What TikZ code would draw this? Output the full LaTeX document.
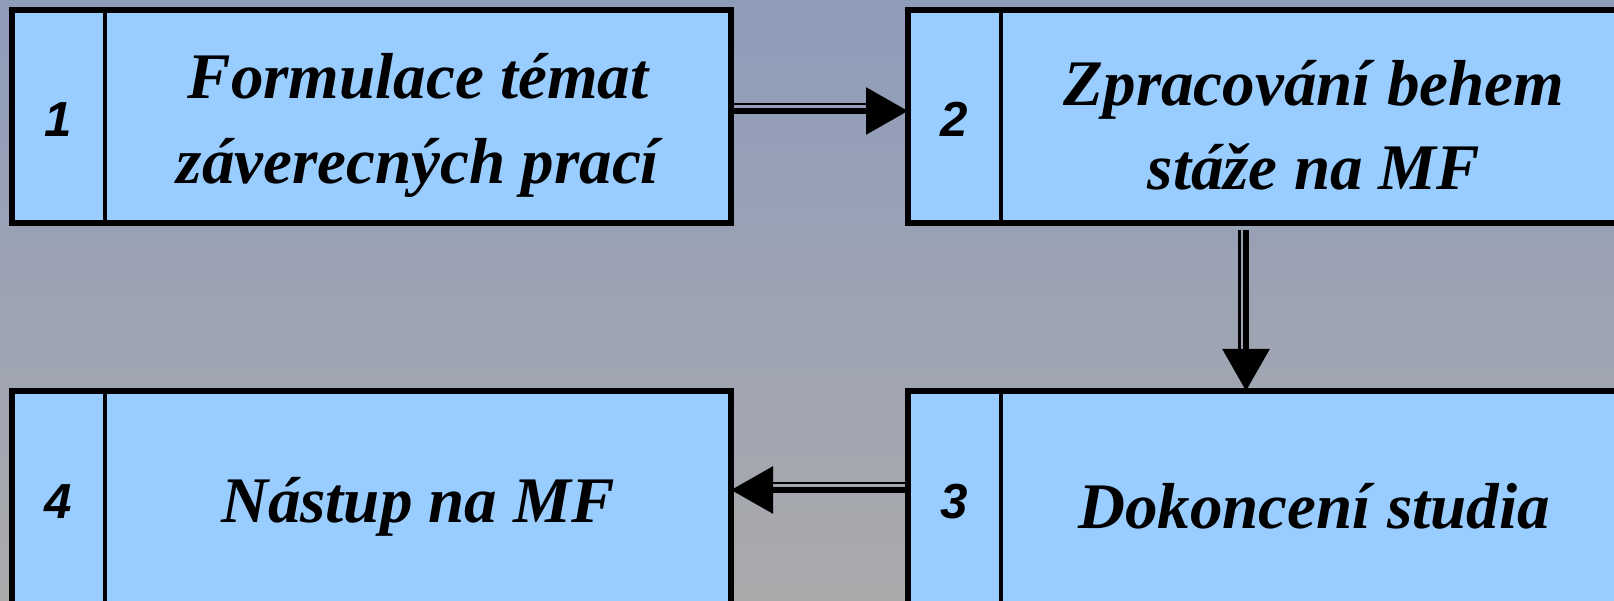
\documentclass[tikz,border=0pt]{standalone}
\usepackage{fontspec}
\setmainfont{Liberation Serif}
\newfontfamily\numfont{Liberation Sans}
\usetikzlibrary{arrows.meta,calc,positioning}
\definecolor{boxblue}{HTML}{99CCFF}
\definecolor{bgtop}{RGB}{142,156,186}
\definecolor{bgbottom}{RGB}{170,170,172}
\tikzset{stage box/.style={draw=black, line width=1.8pt, fill=boxblue, minimum width=7.19cm, minimum height=2.13cm, inner sep=0, outer sep=0},
	stage text/.style={font=\fontsize{18.5}{24}\selectfont\bfseries\itshape, align=center},
	num text/.style={font=\numfont\fontsize{14}{16}\selectfont\bfseries\itshape},
	divider/.style={line width=0.9pt},
	flow/.style={line width=1.7pt, -{Triangle[length=0.42cm, width=0.46cm]}},
	flow edge/.style={line width=0.6pt}}

\begin{document}
\begin{tikzpicture}
			\useasboundingbox (0,0) rectangle (16.14,6.01);
			\clip (0,0) rectangle (16.14,6.01);
			\shade[top color=bgtop, bottom color=bgbottom] (0,0) rectangle (16.14,6.01);
			
			\node[stage box] (b1) at (3.715,4.845) {};
			\node[stage box] (b2) at (12.675,4.845) {};
			\node[stage box] (b3) at (12.675,1.035) {};
			\node[stage box] (b4) at (3.715,1.035) {};
			
			\foreach \b in {b1,b2,b3,b4}
				\draw[divider] ($(\b.north west)+(0.93,0)$) -- ($(\b.south west)+(0.93,0)$);
			
			\node[num text] (n1) at ($(b1.west)+(0.465,-0.03)$) {1};
			\node[num text] (n2) at ($(b2.west)+(0.465,-0.03)$) {2};
			\node[num text] (n3) at ($(b3.west)+(0.465,-0.04)$) {3};
			\node[num text] (n4) at ($(b4.west)+(0.465,-0.04)$) {4};
			
			\node[stage text] (t1) at ($(b1.center)+(0.465,-0.09)$) {Formulace témat\\záverecných prací};
			\node[stage text] (t2) at ($(b2.center)+(0.465,-0.09)$) {Zpracování behem\\stáže na MF};
			\node[stage text] (t3) at ($(b3.center)+(0.465,-0.09)$) {Dokoncení studia};
			\node[stage text] (t4) at ($(b4.center)+(0.465,-0.09)$) {Nástup na MF};
			
			% double arrows
			\draw[flow edge] ($(b1.east)+(0,0.125)$) -- ($(b2.west)+(-0.3,0.125)$);
			\draw[flow] ($(b1.east)+(0,0.055)$) -- ($(b2.west)+(0,0.055)$);
			\draw[flow edge] ($(b2.south)+(-0.28,-0.07)$) -- ($(b3.north)+(-0.28,0.3)$);
			\draw[flow] ($(b2.south)+(-0.215,-0.07)$) -- ($(b3.north)+(-0.215,0)$);
			\draw[flow edge] ($(b3.west)+(0,0.145)$) -- ($(b4.east)+(0.3,0.145)$);
			\draw[flow] ($(b3.west)+(0,0.075)$) -- ($(b4.east)+(0,0.075)$);
		\end{tikzpicture}
\end{document}
